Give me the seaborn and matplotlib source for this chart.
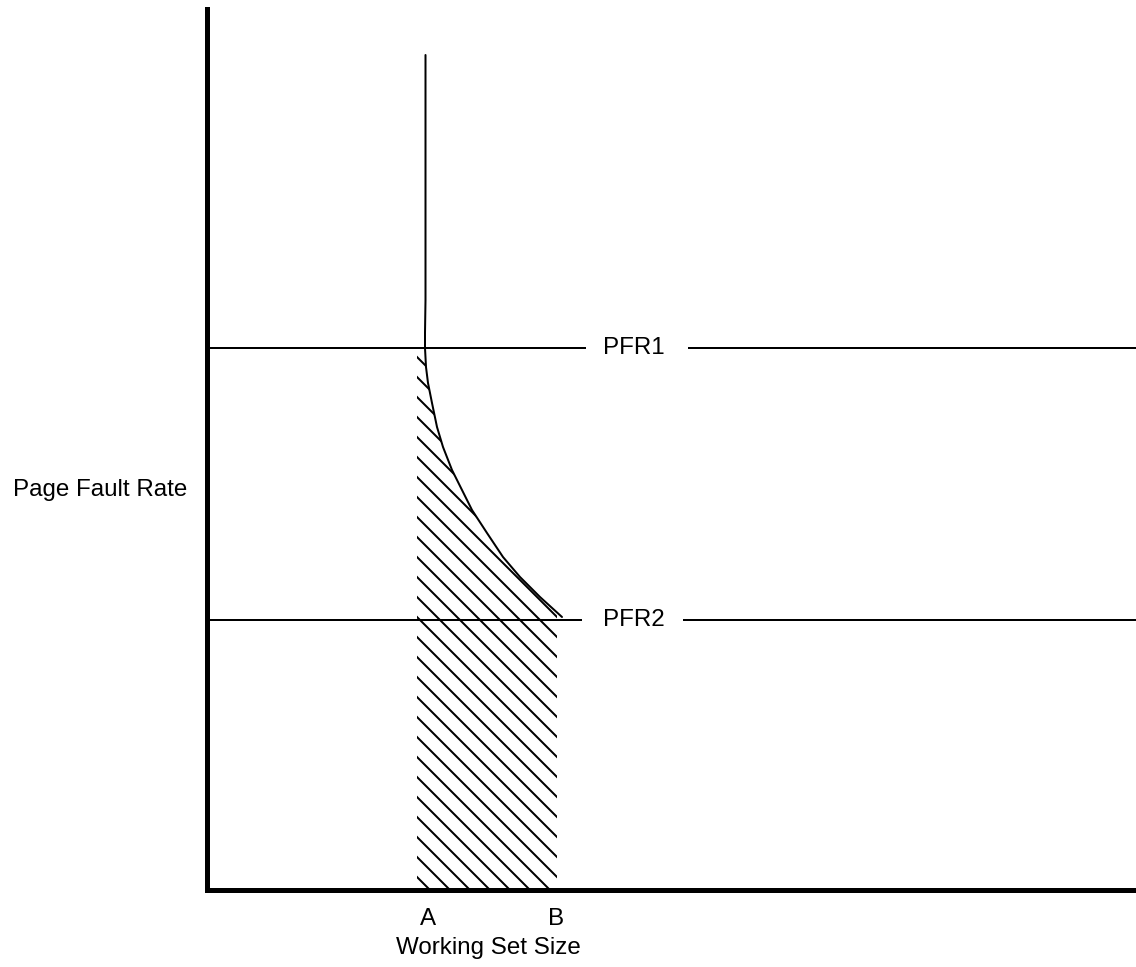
import matplotlib
matplotlib.use("Agg")
import matplotlib.pyplot as plt
import seaborn as sns
import pandas as pd

# Кривая: размер рабочего множества -> частота страничных прерываний
curve_x = [218.5, 218.5, 218.5, 218, 218, 219, 221, 225, 230, 236, 245, 255, 265, 280, 296, 313, 333, 355]
curve_y = [835, 700, 590, 557, 542, 523, 507, 487, 463, 443, 420, 400, 380, 357, 333, 313, 293, 273]

# Заштрихованная область между A и B
shade_x = [210, 218, 219, 221, 225, 230, 236, 245, 255, 265, 280, 296, 313, 333, 350]
shade_top = [542, 542, 523, 507, 487, 463, 443, 420, 400, 380, 357, 333, 313, 293, 277]

# Пороговые уровни
pfr_names = ['PFR1', 'PFR2']
pfr_levels = [542, 270]
pfr_gaps = [(379, 481), (375, 476)]
pfr_text_x = 396

tick_pos = [221, 349]
tick_names = ['A', 'B']

x_max = 929
y_max = 881

sns.set_style("white")
plt.rcParams['font.family'] = ['Liberation Sans', 'DejaVu Sans']
plt.rcParams['text.color'] = 'black'
plt.rcParams['axes.labelcolor'] = 'black'
plt.rcParams['xtick.color'] = 'black'
plt.rcParams['hatch.linewidth'] = 1.2
plt.rcParams['hatch.color'] = 'black'

fig = plt.figure(figsize=(1136 / 120, 967 / 120), dpi=120)
ax = fig.add_axes([207 / 1136, 77 / 967, 929 / 1136, 881 / 967])

df = pd.DataFrame({'x': curve_x, 'y': curve_y})

# штриховка
ax.fill_between(shade_x, 0, shade_top, facecolor='none', edgecolor='black',
                linewidth=0, hatch='\\\\')

# линии PFR с разрывом под подпись
for name, lvl, (g0, g1) in zip(pfr_names, pfr_levels, pfr_gaps):
    ax.hlines(lvl, 0, g0, color='black', linewidth=1.2)
    ax.hlines(lvl, g1, x_max, color='black', linewidth=1.2)
    ax.text(pfr_text_x, lvl, name, ha='left', va='center', fontsize=14.5)

# кривая
sns.lineplot(data=df, x='x', y='y', sort=False, estimator=None,
             color='black', linewidth=1.2, ax=ax)

ax.set_xlim(0, x_max)
ax.set_ylim(0, y_max)
ax.set_xticks(tick_pos)
ax.set_xticklabels(tick_names, fontsize=14.5)
ax.set_yticks([])
ax.tick_params(axis='x', length=0, pad=11)

ax.set_xlabel('Working Set Size', fontsize=14.5)
ax.xaxis.set_label_coords(281 / 929, -58 / 881)
ax.xaxis.label.set_va('center')
ax.set_ylabel('Page Fault Rate', fontsize=14.5, rotation=0, ha='center', va='center')
ax.yaxis.set_label_coords(-107 / 929, 400 / 881)

for side in ['top', 'right']:
    ax.spines[side].set_visible(False)
for side in ['left', 'bottom']:
    ax.spines[side].set_linewidth(3)
    ax.spines[side].set_color('black')

fig.savefig('out.png', dpi=120)
